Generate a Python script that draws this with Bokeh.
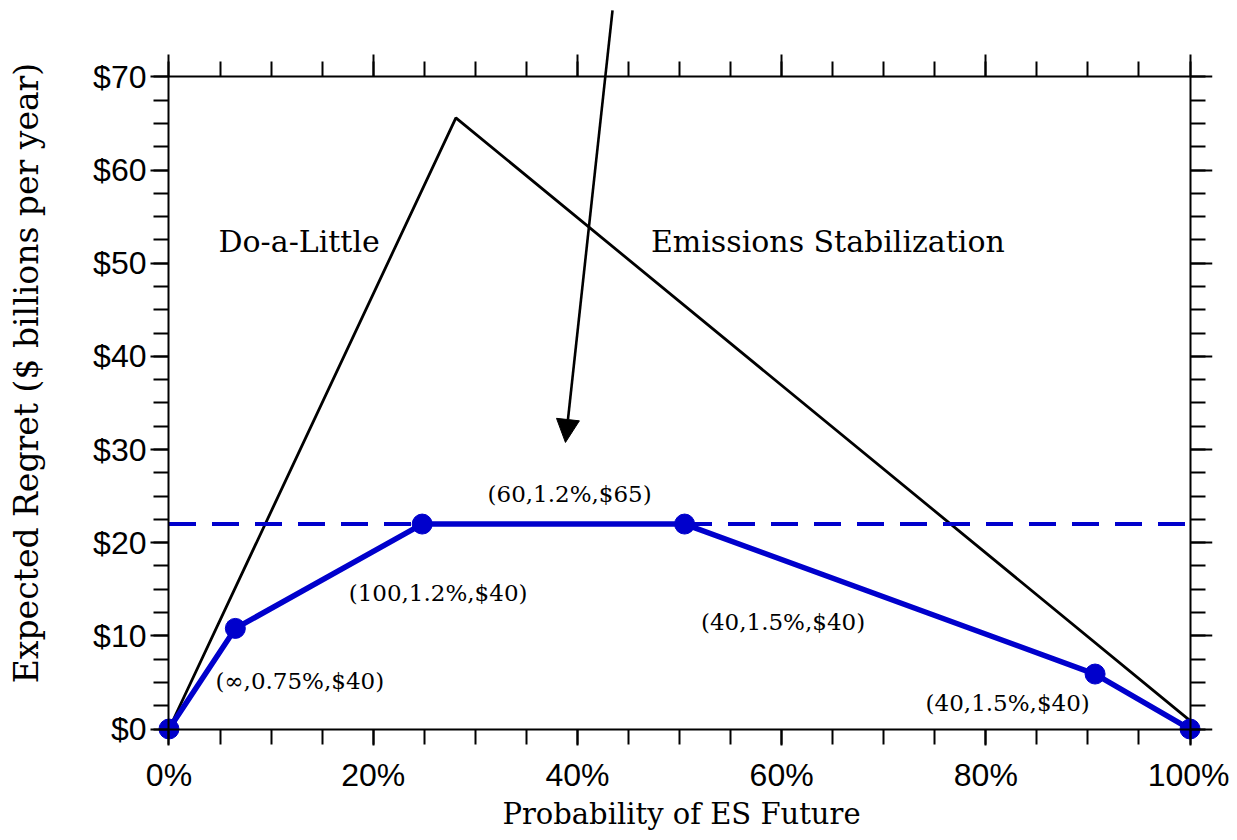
from bokeh.plotting import figure
from bokeh.models import (LinearAxis, FixedTicker, Range1d, Label, Arrow, NormalHead,
                          PrintfTickFormatter, NumeralTickFormatter)
from bokeh.embed import file_html
from bokeh.resources import INLINE

# ---- data ----
prob_frontier = [0, 6.5, 24.8, 50.5, 90.7, 100]
regret_frontier = [0, 10.8, 22.0, 22.0, 5.9, 0]
prob_single = [0, 28.1, 100]
regret_single = [0, 65.6, 0.9]
minimax_regret = 22.0
x_ticks = [0, 20, 40, 60, 80, 100]
x_minor = [5 * i for i in range(21)]
y_ticks = [0, 10, 20, 30, 40, 50, 60, 70]
y_minor = [2.5 * i for i in range(29)]
point_labels = ["(\u221e,0.75%,$40)", "(100,1.2%,$40)", "(60,1.2%,$65)",
                "(40,1.5%,$40)", "(40,1.5%,$40)"]
point_label_x = [4.55, 17.6, 31.2, 52.1, 74.1]
point_label_y = [5.15, 14.6, 25.2, 11.5, 2.75]
strategy_labels = ["Do-a-Little", "Emissions Stabilization"]
strategy_label_x = [4.85, 47.2]
strategy_label_y = [52.3, 52.3]
arrow_start = (43.44, 77.14)
arrow_end = (38.83, 30.76)

BLUE = "#0000CC"

W, H = 1229, 838
p = figure(width=W, height=H, output_backend="svg", toolbar_location=None,
           x_range=Range1d(-1.81, 102.2), y_range=Range1d(-1.77, 78.2),
           min_border_left=150, min_border_right=W - 1212, min_border_top=0,
           min_border_bottom=H - 745)
p.outline_line_color = None
p.xgrid.grid_line_color = None
p.ygrid.grid_line_color = None


def rule_style(ax):
    ax.axis_line_width = 2
    ax.axis_line_color = "black"
    ax.major_tick_line_width = 2
    ax.minor_tick_line_width = 2
    ax.major_tick_line_color = "black"
    ax.minor_tick_line_color = "black"
    ax.major_tick_out = 22
    ax.major_tick_in = 0
    ax.minor_tick_out = 15
    ax.minor_tick_in = 0
    ax.major_label_text_color = None


def label_style(ax):
    ax.axis_line_color = None
    ax.major_tick_line_color = None
    ax.minor_tick_line_color = None
    ax.major_tick_out = 0
    ax.major_tick_in = 0
    ax.minor_tick_out = 0
    ax.minor_tick_in = 0
    ax.major_label_text_font = "Liberation Sans"
    ax.major_label_text_font_size = "32px"
    ax.major_label_text_color = "black"
    ax.axis_label_text_font = "DejaVu Serif"
    ax.axis_label_text_font_style = "normal"
    ax.axis_label_text_color = "black"


# labelled axes at the frame edges (text only)
xb = p.xaxis[0]
xb.ticker = FixedTicker(ticks=x_ticks, minor_ticks=[])
xb.formatter = PrintfTickFormatter(format="%d%%")
xb.axis_label = "Probability of ES Future"
label_style(xb)
xb.axis_label_text_font_size = "29px"
xb.major_label_standoff = 11
xb.axis_label_standoff = 1

yl = p.yaxis[0]
yl.ticker = FixedTicker(ticks=y_ticks, minor_ticks=[])
yl.formatter = NumeralTickFormatter(format="$0")
yl.axis_label = "Expected Regret ($ billions per year)"
label_style(yl)
yl.axis_label_text_font_size = "33px"
yl.major_label_standoff = 4
yl.axis_label_standoff = 44

# box of axis rules and ticks at the data edges
for loc, side, dim_ticks, dim_minor, bnds in [
        (y_ticks[0], "below", x_ticks, x_minor, (x_ticks[0], x_ticks[-1])),
        (y_ticks[-1], "above", x_ticks, x_minor, (x_ticks[0], x_ticks[-1])),
        (x_ticks[0], "left", y_ticks, y_minor, (y_ticks[0], y_ticks[-1])),
        (x_ticks[-1], "right", y_ticks, y_minor, (y_ticks[0], y_ticks[-1]))]:
    ax = LinearAxis(ticker=FixedTicker(ticks=dim_ticks, minor_ticks=dim_minor),
                    fixed_location=loc, bounds=bnds)
    rule_style(ax)
    p.add_layout(ax, side)

# single strategy regret line
p.line(prob_single, regret_single, line_color="black", line_width=2.8)

# arrow
p.add_layout(Arrow(end=NormalHead(size=23, fill_color="black", line_color="black", line_width=1),
                   x_start=arrow_start[0], y_start=arrow_start[1],
                   x_end=arrow_end[0], y_end=arrow_end[1],
                   line_color="black", line_width=2.6))

# minimax dashed level
p.line([x_ticks[0], x_ticks[-1]], [minimax_regret, minimax_regret],
       line_color=BLUE, line_width=4, line_dash="27 16")

# frontier
p.line(prob_frontier, regret_frontier, line_color=BLUE, line_width=5.5)
p.scatter(prob_frontier, regret_frontier, size=20, fill_color=BLUE, line_color=BLUE)

for t, lx, ly in zip(point_labels, point_label_x, point_label_y):
    p.add_layout(Label(x=lx, y=ly, text=t, text_font="DejaVu Serif",
                       text_font_size="23px", text_baseline="middle",
                       text_align="left", text_color="black"))

for t, lx, ly in zip(strategy_labels, strategy_label_x, strategy_label_y):
    p.add_layout(Label(x=lx, y=ly, text=t, text_font="DejaVu Serif",
                       text_font_size="30px", text_baseline="middle",
                       text_align="left", text_color="black"))

open("out.html", "w").write(file_html(p, INLINE))
